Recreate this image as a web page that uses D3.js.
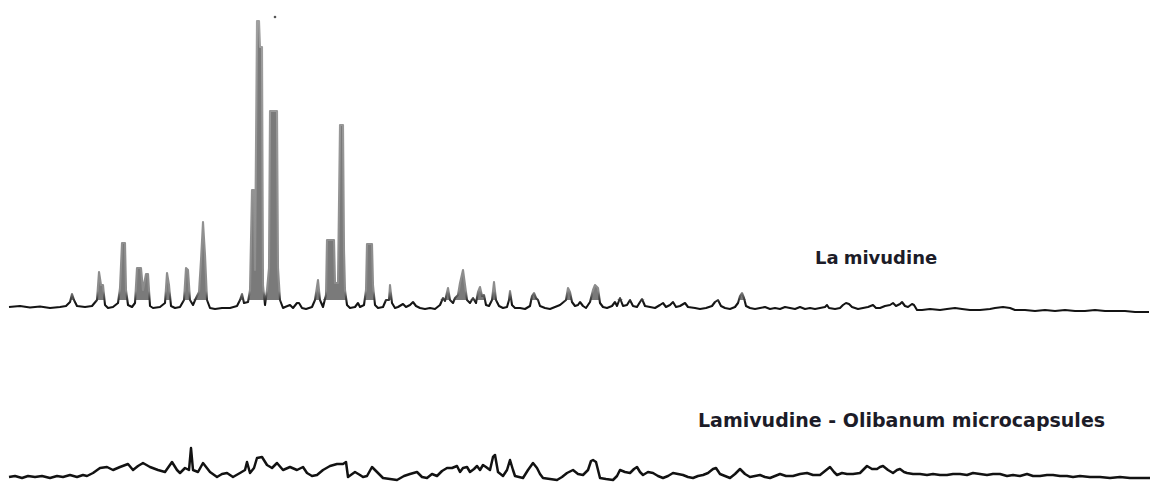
<!DOCTYPE html>
<html>
<head>
<meta charset="utf-8">
<script src="https://cdn.jsdelivr.net/npm/d3@7"></script>
<style>
  body { margin: 0; background: #fff; }
  #app { width: 1161px; height: 487px; }
  .label { font-family: "DejaVu Sans", Verdana, sans-serif; font-weight: bold; fill: #1c1c28; }
</style>
</head>
<body>
<div id="app"></div>
<script>
// 2-theta (deg) / intensity (a.u.) pairs
const LAMIVUDINE = [
  [5.00, 50], [5.55, 60], [6.05, 45], [6.55, 55], [7.05, 40], [7.55, 50], [7.85, 60],
  [8.05, 100], [8.15, 180], [8.25, 120], [8.40, 60], [8.80, 50], [9.15, 60], [9.40, 120],
  [9.50, 400], [9.60, 270], [9.70, 270], [9.80, 70], [9.95, 40], [10.20, 50], [10.45, 90],
  [10.55, 240], [10.65, 690], [10.80, 690], [10.85, 220], [10.95, 70], [11.15, 50], [11.30, 90],
  [11.40, 440], [11.60, 440], [11.70, 220], [11.85, 380], [11.95, 380], [12.05, 60], [12.20, 40],
  [12.55, 50], [12.80, 90], [12.90, 390], [13.00, 270], [13.10, 60], [13.30, 40], [13.55, 50],
  [13.75, 120], [13.85, 440], [13.95, 420], [14.05, 120], [14.20, 70], [14.35, 140], [14.50, 200],
  [14.60, 520], [14.70, 900], [14.80, 570], [14.90, 120], [15.05, 40], [15.30, 30], [15.65, 40],
  [16.05, 40], [16.40, 60], [16.55, 120], [16.65, 180], [16.75, 90], [16.95, 100], [17.05, 220],
  [17.15, 1220], [17.25, 1220], [17.30, 420], [17.40, 2910], [17.50, 2910], [17.55, 2650],
  [17.65, 2650], [17.70, 270], [17.80, 70], [17.90, 220], [18.00, 440], [18.05, 2010],
  [18.40, 2010], [18.45, 440], [18.55, 120], [18.70, 40], [18.80, 50], [19.05, 70], [19.20, 40],
  [19.40, 90], [19.50, 90], [19.65, 40], [19.85, 30], [20.15, 50], [20.30, 120], [20.45, 320],
  [20.55, 120], [20.70, 50], [20.85, 170], [20.90, 720], [21.25, 720], [21.30, 290], [21.45, 290],
  [21.55, 1870], [21.70, 1870], [21.75, 620], [21.80, 220], [21.90, 70], [22.05, 40], [22.30, 50],
  [22.45, 90], [22.55, 50], [22.75, 70], [22.85, 220], [22.90, 680], [23.15, 680], [23.20, 270],
  [23.30, 70], [23.45, 40], [23.70, 50], [23.85, 120], [24.00, 120], [24.05, 270], [24.15, 90],
  [24.30, 40], [24.45, 50], [24.70, 80], [24.85, 50], [25.05, 70], [25.20, 100], [25.35, 60],
  [25.55, 40], [25.80, 30], [26.05, 40], [26.30, 30], [26.55, 70], [26.70, 140], [26.80, 110],
  [26.95, 240], [27.05, 120], [27.20, 90], [27.30, 140], [27.45, 170], [27.55, 290], [27.70, 420],
  [27.80, 270], [27.90, 120], [28.05, 90], [28.20, 140], [28.35, 90], [28.45, 200], [28.55, 250],
  [28.65, 160], [28.75, 170], [28.85, 70], [29.00, 60], [29.15, 120], [29.25, 300], [29.35, 120],
  [29.50, 60], [29.70, 40], [29.90, 50], [30.00, 120], [30.05, 210], [30.15, 70], [30.30, 40],
  [30.55, 40], [30.80, 30], [31.05, 60], [31.15, 160], [31.25, 190], [31.35, 140], [31.45, 120],
  [31.55, 60], [31.80, 40], [32.05, 30], [32.30, 50], [32.55, 70], [32.85, 120], [32.95, 240],
  [33.05, 200], [33.15, 100], [33.30, 60], [33.45, 70], [33.55, 100], [33.70, 60], [33.85, 40],
  [34.05, 100], [34.20, 220], [34.30, 270], [34.45, 240], [34.55, 90], [34.70, 50], [34.90, 40],
  [35.15, 60], [35.30, 100], [35.40, 60], [35.55, 140], [35.70, 60], [35.90, 70], [36.05, 120],
  [36.20, 60], [36.40, 50], [36.55, 100], [36.65, 130], [36.80, 60], [37.05, 50], [37.30, 40],
  [37.55, 70], [37.70, 90], [37.85, 50], [38.05, 70], [38.20, 100], [38.35, 50], [38.55, 60],
  [38.80, 90], [38.95, 50], [39.30, 40], [39.55, 30], [39.85, 40], [40.15, 60], [40.30, 100],
  [40.45, 120], [40.60, 60], [40.80, 40], [41.05, 30], [41.30, 50], [41.45, 90], [41.55, 160],
  [41.65, 190], [41.75, 140], [41.85, 60], [42.05, 40], [42.30, 30], [42.55, 40], [42.80, 50],
  [43.05, 30], [43.30, 40], [43.55, 30], [43.80, 50], [44.05, 40], [44.30, 30], [44.55, 50],
  [44.80, 30], [45.05, 40], [45.30, 30], [45.55, 40], [45.80, 50], [45.90, 70], [46.00, 40],
  [46.30, 30], [46.55, 40], [46.70, 70], [46.85, 90], [47.00, 80], [47.15, 50], [47.45, 30],
  [47.70, 40], [47.95, 50], [48.20, 70], [48.35, 40], [48.55, 40], [48.80, 60], [49.05, 70],
  [49.20, 90], [49.35, 60], [49.55, 80], [49.65, 100], [49.80, 60], [49.95, 50], [50.15, 80],
  [50.25, 70], [50.40, 20], [50.65, 20], [51.05, 30], [51.55, 20], [51.90, 30], [52.30, 40],
  [52.65, 30], [53.05, 20], [53.55, 20], [54.05, 30], [54.30, 40], [54.70, 50], [55.05, 40],
  [55.30, 20], [55.80, 20], [56.30, 10], [56.80, 20], [57.30, 10], [57.80, 20], [58.30, 10],
  [58.80, 10], [59.30, 20], [59.80, 10], [60.30, 10], [60.80, 10], [61.30, 0], [62.00, 0]
];

const MICROCAPSULES = [
  [5.00, 50], [5.30, 60], [5.65, 40], [5.95, 60], [6.30, 50], [6.65, 60], [7.05, 40],
  [7.40, 60], [7.70, 50], [8.05, 70], [8.40, 50], [8.70, 70], [8.90, 60], [9.20, 90],
  [9.55, 140], [9.90, 150], [10.20, 120], [10.55, 150], [10.95, 180], [11.20, 120], [11.45, 160],
  [11.70, 190], [12.05, 150], [12.45, 120], [12.80, 100], [13.15, 200], [13.40, 120], [13.55, 90],
  [13.80, 140], [14.00, 120], [14.10, 340], [14.20, 120], [14.45, 100], [14.70, 190], [15.05, 100],
  [15.40, 50], [15.65, 80], [15.90, 90], [16.20, 50], [16.55, 90], [16.80, 120], [16.90, 200],
  [17.05, 90], [17.25, 140], [17.40, 240], [17.65, 250], [17.90, 170], [18.15, 140], [18.40, 190],
  [18.70, 120], [19.05, 150], [19.40, 120], [19.70, 150], [19.90, 90], [20.15, 60], [20.40, 70],
  [20.70, 120], [21.05, 160], [21.40, 180], [21.70, 180], [21.85, 200], [21.95, 50], [22.30, 100],
  [22.55, 70], [22.70, 50], [22.90, 60], [23.15, 150], [23.40, 100], [23.70, 40], [24.05, 30],
  [24.40, 20], [24.75, 60], [25.05, 80], [25.40, 100], [25.65, 50], [25.90, 40], [26.15, 80],
  [26.40, 60], [26.65, 110], [26.90, 140], [27.15, 140], [27.40, 160], [27.55, 100], [27.70, 140],
  [27.90, 150], [28.05, 100], [28.25, 130], [28.40, 160], [28.55, 120], [28.70, 170], [28.85, 150],
  [29.05, 120], [29.20, 250], [29.30, 270], [29.45, 100], [29.70, 60], [29.90, 120], [30.05, 220],
  [30.20, 120], [30.30, 60], [30.50, 50], [30.70, 40], [30.95, 120], [31.20, 190], [31.40, 140],
  [31.55, 80], [31.70, 40], [32.05, 30], [32.40, 20], [32.65, 50], [32.90, 90], [33.20, 120],
  [33.45, 80], [33.70, 70], [33.95, 120], [34.10, 210], [34.20, 220], [34.35, 200], [34.55, 40],
  [34.85, 30], [35.20, 20], [35.40, 60], [35.55, 120], [35.80, 100], [36.05, 90], [36.25, 130],
  [36.40, 150], [36.55, 100], [36.70, 70], [36.95, 100], [37.20, 90], [37.45, 60], [37.70, 40],
  [37.95, 60], [38.20, 90], [38.45, 80], [38.70, 70], [38.95, 50], [39.20, 40], [39.45, 60],
  [39.70, 70], [39.95, 90], [40.20, 130], [40.35, 140], [40.55, 80], [40.80, 60], [41.05, 40],
  [41.30, 80], [41.55, 130], [41.80, 80], [42.05, 50], [42.30, 60], [42.55, 70], [42.80, 50],
  [43.05, 40], [43.30, 60], [43.55, 80], [43.85, 60], [44.20, 60], [44.55, 80], [44.90, 90],
  [45.20, 70], [45.55, 70], [45.80, 110], [46.05, 150], [46.25, 100], [46.40, 70], [46.65, 90],
  [46.90, 80], [47.20, 80], [47.55, 90], [47.75, 130], [47.90, 160], [48.15, 130], [48.40, 130],
  [48.55, 150], [48.70, 160], [48.95, 120], [49.20, 90], [49.40, 120], [49.55, 130], [49.75, 100],
  [49.90, 90], [50.20, 80], [50.55, 80], [50.90, 70], [51.20, 80], [51.55, 70], [51.90, 70],
  [52.20, 80], [52.55, 80], [52.90, 70], [53.20, 90], [53.55, 80], [53.90, 70], [54.20, 80],
  [54.55, 80], [54.90, 60], [55.20, 70], [55.55, 60], [55.90, 80], [56.20, 60], [56.55, 60],
  [56.90, 70], [57.20, 70], [57.55, 60], [57.90, 60], [58.20, 50], [58.55, 60], [59.05, 50],
  [59.55, 50], [60.05, 40], [60.55, 50], [61.05, 40], [61.55, 40], [62.05, 40]
];

// stray mark above the main reflections
const MARKER = [[18.30, 2950]];

const LABELS = ["Lamivudine", "Lamivudine - Olibanum microcapsules"];

// lower pattern is stacked below the upper one
const OFFSET = -1700;

const WIDTH = 1161;
const HEIGHT = 487;

const svg = d3
  .select("#app")
  .append("svg")
  .attr("width", WIDTH)
  .attr("height", HEIGHT);

const x = d3.scaleLinear().domain([5, 62]).range([9, 1149]);
const y = d3.scaleLinear().domain([OFFSET, 3000]).range([482, 12]);

// scanned print: tall peaks come out grey, baseline stays black
const grad = svg
  .append("defs")
  .append("linearGradient")
  .attr("id", "ink")
  .attr("gradientUnits", "userSpaceOnUse")
  .attr("x1", 0)
  .attr("x2", 0)
  .attr("y1", y(3000))
  .attr("y2", y(0));
grad.append("stop").attr("offset", 0).attr("stop-color", "#a0a0a0");
grad.append("stop").attr("offset", 0.93).attr("stop-color", "#8c8c8c");
grad.append("stop").attr("offset", 0.97).attr("stop-color", "#141414");
grad.append("stop").attr("offset", 1).attr("stop-color", "#141414");

const FLOOR = 120;
const peakArea = d3
  .area()
  .x((d) => x(d[0]))
  .y0(y(FLOOR))
  .y1((d) => y(Math.max(d[1], FLOOR)));

const line = d3
  .line()
  .x((d) => x(d[0]))
  .y((d) => y(d[1]));

// Lamivudine
svg
  .append("path")
  .datum(LAMIVUDINE)
  .attr("d", peakArea)
  .attr("fill", "#7a7a7a");

svg
  .append("path")
  .datum(LAMIVUDINE)
  .attr("d", line)
  .attr("fill", "none")
  .attr("stroke", "url(#ink)")
  .attr("stroke-width", 2.1)
  .attr("stroke-linejoin", "round");

svg
  .selectAll("circle.marker")
  .data(MARKER)
  .join("circle")
  .classed("marker", true)
  .attr("cx", (d) => x(d[0]))
  .attr("cy", (d) => y(d[1]))
  .attr("r", 1.3)
  .attr("fill", "#555");

// Lamivudine - Olibanum microcapsules
svg
  .append("path")
  .datum(MICROCAPSULES.map((d) => [d[0], d[1] + OFFSET]))
  .attr("d", line)
  .attr("fill", "none")
  .attr("stroke", "#121212")
  .attr("stroke-width", 2.5)
  .attr("stroke-linejoin", "round");

// Labels
const topLabel = svg
  .append("text")
  .classed("label", true)
  .attr("x", x(45.3))
  .attr("y", y(480))
  .style("font-size", "18px");
topLabel.append("tspan").text(LABELS[0].slice(0, 2));
topLabel.append("tspan").attr("dx", 5).text(LABELS[0].slice(2));

svg
  .append("text")
  .classed("label", true)
  .attr("x", x(39.45))
  .attr("y", y(550 + OFFSET))
  .style("font-size", "19px")
  .text(LABELS[1]);
</script>
</body>
</html>
